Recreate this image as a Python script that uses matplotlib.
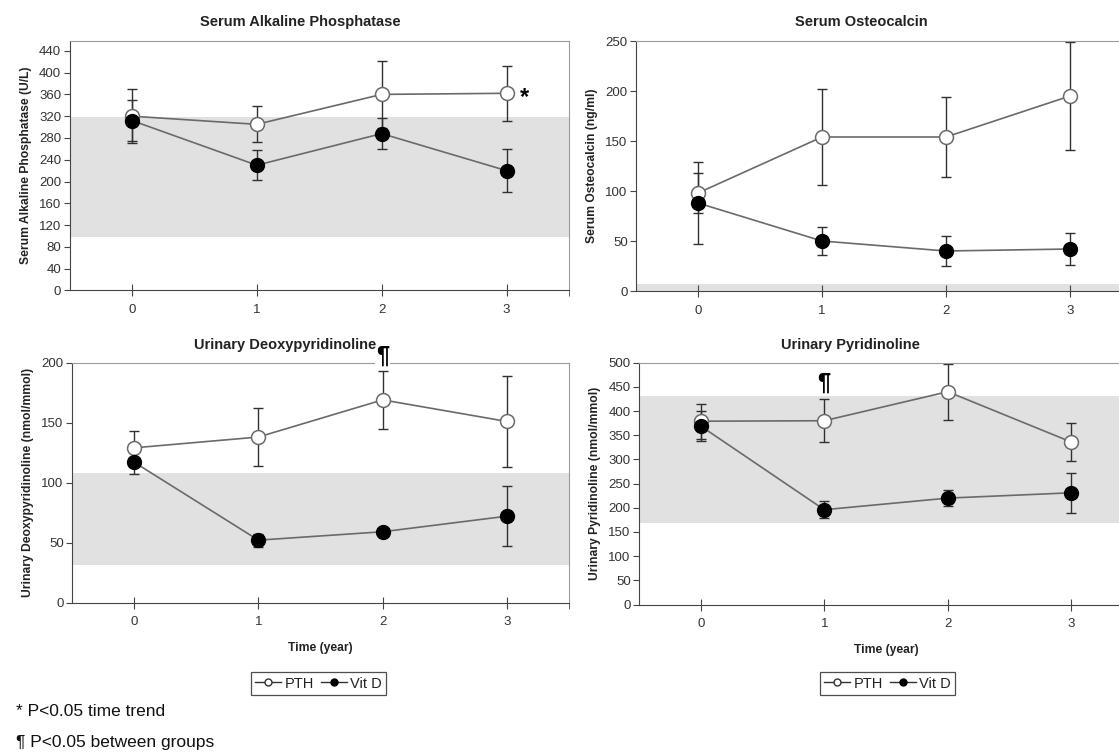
import matplotlib
matplotlib.use("Agg")
import matplotlib.pyplot as plt
from matplotlib.lines import Line2D

plt.rcParams['font.family'] = ['Liberation Sans', 'DejaVu Sans']

# time points (years)
years = [0, 1, 2, 3]
year_labels = ['0', '1', '2', '3']

# Serum alkaline phosphatase (U/L)
alp_pth = [320, 305, 360, 362]
alp_pth_err = [50, 33, 61, 50]
alp_vitd = [312, 230, 288, 220]
alp_vitd_err = [37, 27, 28, 40]
alp_normal = (98, 318)

# Serum osteocalcin (ng/ml)
ost_pth = [98, 154, 154, 195]
ost_pth_err = [20, 48, 40, 54]
ost_vitd = [88, 50, 40, 42]
ost_vitd_err = [41, 14, 15, 16]
ost_normal = (0, 7)

# Urinary deoxypyridinoline (nmol/mmol)
dpd_pth = [129, 138, 169, 151]
dpd_pth_err = [14, 24, 24, 38]
dpd_vitd = [117, 52, 59, 72]
dpd_vitd_err = [10, 5.5, 2, 25]
dpd_normal = (31, 108)

# Urinary pyridinoline (nmol/mmol)
pyd_pth = [379, 380, 440, 336]
pyd_pth_err = [36, 45, 58, 39]
pyd_vitd = [369, 196, 220, 231]
pyd_vitd_err = [31, 17, 17, 41]
pyd_normal = (169, 431)

W, H = 1119, 752
fig = plt.figure(figsize=(W / 100, H / 100), dpi=100)


def px_axes(left, right, top, bottom):
    # axes from pixel box (origin top-left)
    return fig.add_axes([left / W, (H - bottom) / H, (right - left) / W, (bottom - top) / H])


def draw_panel(ax, pth, pth_err, vitd, vitd_err, normal, ymax, yticks, ylabel):
    ax.set_xlim(-0.5, 3.5)
    ax.set_ylim(0, ymax)
    ax.axhspan(normal[0], normal[1], color='#e1e1e1', lw=0, zorder=0)
    for vals, errs in ((pth, pth_err), (vitd, vitd_err)):
        ax.errorbar(years, vals, yerr=errs, fmt='none', ecolor='#303030',
                    elinewidth=1, capsize=3.5, capthick=1, zorder=2)
    ax.plot(years, pth, color='#6a6a6a', lw=1.2, marker='o', ms=10,
            mfc='white', mec='#6a6a6a', mew=1.1, zorder=3)
    ax.plot(years, vitd, color='#6a6a6a', lw=1.2, marker='o', ms=10,
            mfc='black', mec='black', zorder=3)
    ax.set_xticks(years)
    ax.set_xticklabels(year_labels)
    ax.set_xticks([3.5], minor=True)
    ax.set_yticks(yticks)
    ax.tick_params(axis='x', which='both', direction='inout', length=8, color='#444',
                   labelsize=9.5, labelcolor='#333', pad=6)
    ax.tick_params(axis='y', direction='out', length=4, color='#444',
                   labelsize=9.5, labelcolor='#333', pad=2)
    for s in ('left', 'bottom'):
        ax.spines[s].set_color('#444')
    for s in ('top', 'right'):
        ax.spines[s].set_color('#9a9a9a')
    ax.set_ylabel(ylabel, fontsize=8.7, fontweight='bold', color='#222', labelpad=5)
    ax.patch.set_alpha(0)


ax1 = px_axes(69.5, 569, 41, 290.5)
draw_panel(ax1, alp_pth, alp_pth_err, alp_vitd, alp_vitd_err, alp_normal,
           458, range(0, 441, 40), 'Serum Alkaline Phosphatase (U/L)')
ax1.annotate('*', xy=(3, alp_pth[3]), xytext=(13, -3), textcoords='offset points',
             fontsize=17, fontweight='bold', ha='center', va='center')

ax2 = px_axes(636, 1132, 41, 291)
draw_panel(ax2, ost_pth, ost_pth_err, ost_vitd, ost_vitd_err, ost_normal,
           250, range(0, 251, 50), 'Serum Osteocalcin (ng/ml)')

ax3 = px_axes(72, 569, 362.7, 602.5)
draw_panel(ax3, dpd_pth, dpd_pth_err, dpd_vitd, dpd_vitd_err, dpd_normal,
           200, range(0, 201, 50), 'Urinary Deoxypyridinoline (nmol/mmol)')
ax3.set_xlabel('Time (year)', fontsize=8.7, fontweight='bold', color='#222', labelpad=10)
ax3.text(2, 205, '\u00b6', fontsize=17, fontweight='bold', ha='center', va='center',
         clip_on=False, zorder=5,
         bbox=dict(facecolor='white', edgecolor='none', pad=0.5))

ax4 = px_axes(639, 1133, 362.7, 604.5)
draw_panel(ax4, pyd_pth, pyd_pth_err, pyd_vitd, pyd_vitd_err, pyd_normal,
           500, range(0, 501, 50), 'Urinary Pyridinoline (nmol/mmol)')
ax4.set_xlabel('Time (year)', fontsize=8.7, fontweight='bold', color='#222', labelpad=10)
ax4.text(1, 458, '\u00b6', fontsize=17, fontweight='bold', ha='center', va='center',
         clip_on=False, zorder=5)

# panel titles
fig.text(300 / W, 1 - 22 / H, 'Serum Alkaline Phosphatase', fontsize=10.5, fontweight='bold',
         ha='center', va='center', color='#222')
fig.text(861 / W, 1 - 22 / H, 'Serum Osteocalcin', fontsize=10.5, fontweight='bold',
         ha='center', va='center', color='#222')
fig.text(285 / W, 1 - 345 / H, 'Urinary Deoxypyridinoline', fontsize=10.5, fontweight='bold',
         ha='center', va='center', color='#222', zorder=1)
fig.text(850 / W, 1 - 345 / H, 'Urinary Pyridinoline', fontsize=10.5, fontweight='bold',
         ha='center', va='center', color='#222')

# legends under the bottom panels
handles = [Line2D([], [], color='#333', lw=1, marker='o', ms=5, mfc='white', mec='#333'),
           Line2D([], [], color='#333', lw=1, marker='o', ms=5, mfc='black', mec='black')]
for cx in (318.5 / W, 887.5 / W):
    leg = fig.legend(handles, ['PTH', 'Vit D'], loc='center', bbox_to_anchor=(cx, 1 - 683.5 / H),
                     ncol=2, fontsize=10.5, frameon=True, fancybox=False, handlelength=1.8,
                     handletextpad=0.2, columnspacing=0.5, borderpad=0.3, borderaxespad=0)
    leg.get_frame().set_edgecolor('#222')
    leg.get_frame().set_linewidth(0.9)
    for t in leg.get_texts():
        t.set_color('#222')

# significance footnotes
fig.text(16 / W, 1 - 712 / H, '* P<0.05 time trend', fontsize=12.5, ha='left', va='center', color='#111')
fig.text(16 / W, 1 - 742 / H, '\u00b6 P<0.05 between groups', fontsize=12.5, ha='left', va='center',
         color='#111')

fig.savefig('out.png', dpi=100)
